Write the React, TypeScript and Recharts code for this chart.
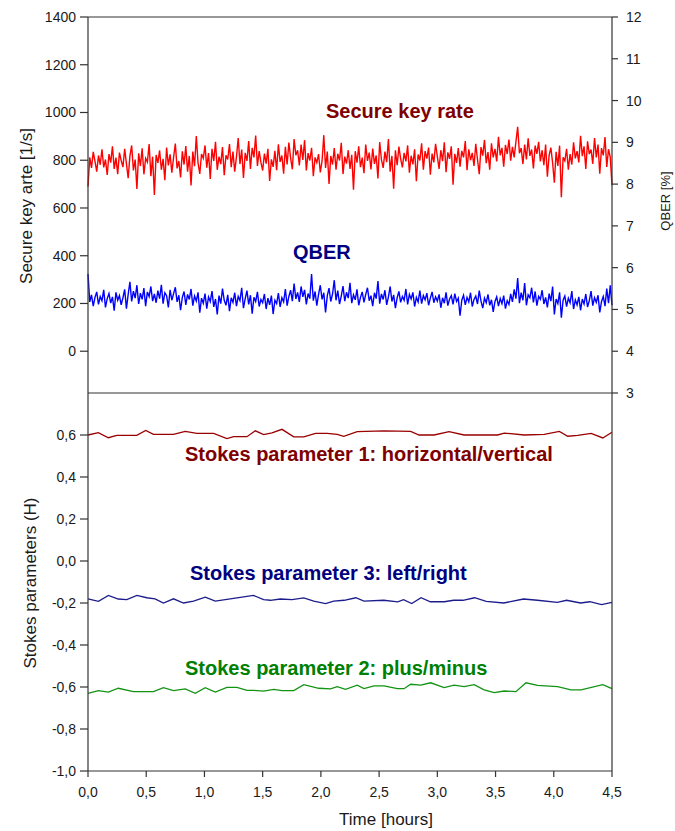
import React from "react";
import { LineChart, Line, XAxis, YAxis, ReferenceLine } from "recharts";

// sampling step of the noisy traces, in hours
const SAMPLE_STEP_H = 0.015;

// secure key rate [1/s], one value per sample
const SECURE_KEY_RATE = [
  690, 812, 768, 835, 795, 752, 820, 781, 846, 770, 803, 738, 826, 790, 858, 764, 811, 742, 832, 799,
  771, 848, 786, 725, 818, 862, 757, 803, 680, 829, 776, 850, 741, 808, 792, 868, 733, 815, 655, 822,
  789, 841, 760, 806, 716, 853, 778, 825, 748, 812, 870, 766, 797, 728, 837, 782, 859, 752, 818, 694,
  836, 775, 901, 789, 743, 826, 808, 862, 769, 830, 722, 848, 797, 877, 760, 815, 784, 855, 737, 821,
  803, 868, 771, 836, 752, 815, 893, 784, 845, 726, 831, 797, 880, 764, 852, 812, 903, 776, 838, 791,
  757, 828, 786, 848, 713, 804, 772, 839, 758, 867, 793, 820, 744, 856, 782, 874, 809, 762, 889, 821,
  842, 778, 866, 801, 884, 757, 830, 799, 852, 733, 812, 790, 826, 749, 797, 905, 768, 836, 701, 818,
  782, 851, 760, 827, 799, 873, 742, 815, 786, 842, 764, 823, 677, 838, 790, 858, 771, 811, 746, 866,
  797, 832, 761, 849, 785, 820, 724, 876, 803, 768, 836, 792, 889, 752, 818, 681, 842, 779, 857, 806,
  770, 831, 795, 862, 748, 819, 783, 846, 712, 824, 799, 871, 760, 838, 807, 853, 739, 828, 791, 869,
  816, 764, 842, 796, 875, 750, 833, 806, 858, 697, 827, 789, 851, 773, 839, 812, 880, 758, 846, 800,
  831, 776, 869, 803, 742, 855, 819, 885, 788, 834, 760, 871, 812, 848, 795, 898, 820, 852, 773, 864,
  826, 887, 798, 856, 812, 878, 940, 829, 851, 784, 866, 803, 892, 818, 845, 766, 861, 827, 877, 795,
  842, 779, 866, 731, 820, 853, 789, 706, 835, 776, 861, 645, 812, 797, 848, 760, 826, 782, 875, 808,
  838, 791, 902, 817, 858, 763, 879, 826, 845, 785, 893, 812, 866, 744, 851, 820, 897, 772, 846, 813,
  695,
];

// QBER [%], one value per sample
const QBER = [
  5.85, 5.18, 5.35, 5.08, 5.29, 5.42, 5.12, 5.31, 5.21, 5.47, 5.05, 5.26, 5.38, 5.15, 5.30, 4.97, 5.41, 5.22, 5.33, 5.11,
  5.28, 5.48, 5.02, 5.36, 5.66, 5.19, 5.44, 5.27, 5.58, 5.13, 5.39, 5.24, 5.51, 5.08, 5.42, 5.31, 5.55, 5.20, 5.37, 5.16,
  5.45, 5.26, 5.59, 5.14, 5.40, 5.33, 5.05, 5.47, 5.22, 5.38, 5.53, 5.18, 5.34, 4.98, 5.29, 5.43, 5.11, 5.36, 5.24, 5.49,
  5.09, 5.32, 5.20, 5.41, 4.92, 5.27, 5.15, 5.38, 5.02, 5.30, 5.19, 5.44, 5.06, 5.25, 4.88, 5.33, 5.14, 5.50, 5.22, 5.10,
  5.35, 4.96, 5.28, 5.17, 5.40, 5.08, 5.31, 5.21, 5.52, 5.03, 5.26, 5.45, 5.12, 5.34, 4.90, 5.29, 5.19, 5.42, 5.07, 5.24,
  5.16, 5.37, 5.01, 5.27, 5.11, 5.33, 4.89, 5.22, 5.14, 5.39, 5.06, 5.28, 5.18, 5.49, 5.09, 5.31, 5.46, 5.20, 5.62, 5.25,
  5.41, 5.18, 5.55, 5.30, 5.47, 5.12, 5.38, 5.26, 5.85, 5.21, 5.43, 5.09, 5.36, 5.58, 5.24, 5.40, 4.93, 5.33, 5.51, 5.19,
  5.37, 5.70, 5.22, 5.45, 5.13, 5.32, 5.56, 5.20, 5.41, 5.27, 5.64, 5.15, 5.35, 5.23, 5.48, 5.10, 5.29, 5.42, 5.17, 5.36,
  5.52, 5.21, 5.33, 5.08, 5.40, 5.26, 5.68, 5.14, 5.37, 5.24, 5.46, 5.11, 5.30, 5.55, 5.19, 5.35, 5.03, 5.28, 5.43, 5.17,
  5.31, 5.22, 5.49, 5.12, 5.36, 5.25, 5.41, 5.07, 5.29, 5.18, 5.45, 5.14, 5.33, 5.23, 5.39, 5.10, 5.27, 5.42, 5.16, 5.30,
  5.20, 5.36, 5.04, 5.28, 5.15, 5.41, 5.09, 5.25, 5.33, 5.12, 5.38, 5.19, 5.27, 4.85, 5.22, 5.34, 5.11, 5.29, 5.18, 5.40,
  5.07, 5.24, 5.32, 5.13, 5.45, 5.20, 5.03, 5.27, 5.16, 5.36, 5.10, 5.23, 4.94, 5.19, 5.30, 5.08, 5.26, 5.14, 5.33, 5.02,
  5.21, 5.12, 5.37, 5.18, 5.48, 5.26, 5.75, 5.15, 5.40, 5.22, 5.63, 5.10, 5.35, 5.28, 5.52, 5.17, 5.43, 5.09, 5.31, 5.24,
  5.46, 5.13, 5.29, 5.05, 5.38, 5.20, 5.55, 4.88, 5.25, 5.14, 5.41, 4.80, 5.22, 5.32, 5.07, 5.27, 5.16, 5.44, 5.01, 5.23,
  5.11, 5.30, 4.98, 5.25, 5.13, 5.37, 5.06, 5.21, 5.44, 5.09, 5.28, 5.17, 5.34, 4.93, 5.19, 5.31, 5.08, 5.50, 5.15, 5.58,
  5.10,
];

// Stokes parameter 1 (horizontal/vertical)
const S1_TIME = [0, 0.089, 0.175, 0.247, 0.419, 0.496, 0.562, 0.734, 0.835, 0.935, 1.079, 1.193, 1.251, 1.365, 1.437, 1.509, 1.58, 1.666, 1.767, 1.853, 1.954, 2.054, 2.14, 2.197, 2.312, 2.542, 2.771, 2.843, 2.972, 3.101, 3.23, 3.517, 3.575, 3.747, 3.919, 4.048, 4.12, 4.206, 4.321, 4.421, 4.5];
const S1_VALUE = [0.6, 0.611, 0.587, 0.598, 0.598, 0.622, 0.603, 0.603, 0.617, 0.608, 0.608, 0.583, 0.592, 0.592, 0.62, 0.602, 0.61, 0.627, 0.591, 0.591, 0.608, 0.608, 0.603, 0.594, 0.616, 0.62, 0.617, 0.6, 0.6, 0.616, 0.6, 0.6, 0.609, 0.6, 0.603, 0.617, 0.594, 0.598, 0.608, 0.586, 0.613];

// Stokes parameter 3 (left/right)
const S3_TIME = [0, 0.09, 0.175, 0.26, 0.333, 0.42, 0.505, 0.576, 0.648, 0.734, 0.82, 0.906, 1.007, 1.093, 1.193, 1.422, 1.508, 1.566, 1.652, 1.753, 1.853, 1.939, 2.04, 2.11, 2.2, 2.3, 2.37, 2.54, 2.66, 2.71, 2.78, 2.86, 2.94, 3.06, 3.14, 3.22, 3.32, 3.42, 3.57, 3.74, 3.86, 4.03, 4.11, 4.23, 4.31, 4.41, 4.5];
const S3_VALUE = [-0.18, -0.192, -0.164, -0.181, -0.184, -0.164, -0.175, -0.18, -0.2, -0.18, -0.2, -0.191, -0.172, -0.191, -0.183, -0.164, -0.184, -0.187, -0.181, -0.184, -0.176, -0.191, -0.203, -0.191, -0.187, -0.175, -0.191, -0.187, -0.195, -0.184, -0.203, -0.175, -0.194, -0.194, -0.187, -0.187, -0.175, -0.192, -0.2, -0.181, -0.187, -0.197, -0.187, -0.2, -0.194, -0.208, -0.197];

// Stokes parameter 2 (plus/minus)
const S2_TIME = [0, 0.089, 0.175, 0.26, 0.39, 0.562, 0.648, 0.734, 0.835, 0.921, 1.007, 1.093, 1.193, 1.279, 1.365, 1.422, 1.508, 1.595, 1.666, 1.767, 1.853, 1.982, 2.083, 2.14, 2.212, 2.312, 2.37, 2.456, 2.542, 2.657, 2.714, 2.771, 2.857, 2.943, 3.058, 3.144, 3.23, 3.316, 3.402, 3.488, 3.575, 3.675, 3.761, 3.861, 4.033, 4.148, 4.234, 4.421, 4.5];
const S2_VALUE = [-0.63, -0.617, -0.624, -0.606, -0.622, -0.622, -0.603, -0.617, -0.609, -0.63, -0.603, -0.624, -0.602, -0.602, -0.616, -0.616, -0.62, -0.611, -0.617, -0.617, -0.589, -0.606, -0.609, -0.598, -0.611, -0.591, -0.608, -0.595, -0.595, -0.608, -0.608, -0.587, -0.591, -0.58, -0.603, -0.591, -0.598, -0.589, -0.614, -0.627, -0.619, -0.622, -0.58, -0.592, -0.598, -0.614, -0.614, -0.589, -0.608];

const TIME_TICKS = [0, 0.5, 1, 1.5, 2, 2.5, 3, 3.5, 4, 4.5];
const RATE_TICKS = [0, 200, 400, 600, 800, 1000, 1200, 1400];
const QBER_TICKS = [3, 4, 5, 6, 7, 8, 9, 10, 11, 12];
const STOKES_TICKS = [-1, -0.8, -0.6, -0.4, -0.2, 0, 0.2, 0.4, 0.6];

const FONT = "'Liberation Sans', Arial, sans-serif";
const AXIS = "#333333";
const tickStyle = { fontSize: 14, fill: "#1a1a1a", fontFamily: FONT };
const comma = (v: number) => v.toFixed(1).replace(".", ",").replace("-0,0", "0,0");

const topData = SECURE_KEY_RATE.map((v, i) => ({
  t: +(i * SAMPLE_STEP_H).toFixed(3),
  skr: v,
  qber: QBER[i],
}));
const zip = (ts: number[], vs: number[]) => ts.map((t, i) => ({ t, v: vs[i] }));
const s1 = zip(S1_TIME, S1_VALUE);
const s2 = zip(S2_TIME, S2_VALUE);
const s3 = zip(S3_TIME, S3_VALUE);

const labelStyle = { fontFamily: FONT, fontWeight: 700, fontSize: 20 };

export default function App() {
  return (
    <div style={{ position: "absolute", left: 0, top: 0, width: 675, height: 831, background: "#fff" }}>
      <div style={{ position: "absolute", left: 0, top: 0 }}>
        <LineChart width={675} height={400} data={topData} margin={{ top: 17, right: 0, bottom: 7, left: 0 }}>
          <XAxis
            dataKey="t"
            type="number"
            domain={[0, 4.5]}
            ticks={TIME_TICKS}
            mirror
            tick={false}
            tickSize={6}
            stroke={AXIS}
            strokeWidth={1.2}
          />
          <YAxis
            yAxisId="skr"
            domain={[-175, 1400]}
            ticks={RATE_TICKS}
            width={88}
            tickSize={8}
            tickMargin={4}
            tick={tickStyle}
            stroke={AXIS}
            strokeWidth={1.2}
            interval={0}
          />
          <YAxis
            yAxisId="qber"
            orientation="right"
            domain={[3, 12]}
            ticks={QBER_TICKS}
            width={63}
            tickSize={6}
            tickMargin={8}
            tick={tickStyle}
            stroke={AXIS}
            strokeWidth={1.2}
            interval={0}
          />
          <ReferenceLine yAxisId="skr" y={1400} stroke={AXIS} strokeWidth={1.2} />
          <Line yAxisId="skr" dataKey="skr" stroke="#ff0000" strokeWidth={1.4} dot={false} isAnimationActive={false} />
          <Line yAxisId="qber" dataKey="qber" stroke="#0000ff" strokeWidth={1.4} dot={false} isAnimationActive={false} />
        </LineChart>
      </div>
      <div style={{ position: "absolute", left: 0, top: 393 }}>
        <LineChart width={675} height={438} margin={{ top: 0, right: 0, bottom: 0, left: 0 }}>
          <XAxis
            dataKey="t"
            type="number"
            domain={[0, 4.5]}
            ticks={TIME_TICKS}
            height={60}
            tickSize={6}
            tickMargin={10}
            tick={tickStyle}
            tickFormatter={comma}
            stroke={AXIS}
            strokeWidth={1.2}
            interval={0}
            allowDuplicatedCategory={false}
          />
          <YAxis
            yAxisId="st"
            domain={[-1, 0.8]}
            ticks={STOKES_TICKS}
            width={88}
            tickSize={8}
            tickMargin={4}
            tick={tickStyle}
            tickFormatter={comma}
            stroke={AXIS}
            strokeWidth={1.2}
            interval={0}
          />
          <YAxis
            yAxisId="frame"
            orientation="right"
            domain={[0, 1]}
            width={63}
            tick={false}
            tickLine={false}
            stroke={AXIS}
            strokeWidth={1.2}
          />
          <Line yAxisId="st" data={s1} dataKey="v" stroke="#990000" strokeWidth={1.3} dot={false} isAnimationActive={false} />
          <Line yAxisId="st" data={s3} dataKey="v" stroke="#1c1c8c" strokeWidth={1.3} dot={false} isAnimationActive={false} />
          <Line yAxisId="st" data={s2} dataKey="v" stroke="#139313" strokeWidth={1.3} dot={false} isAnimationActive={false} />
        </LineChart>
      </div>
      <svg width={675} height={831} style={{ position: "absolute", left: 0, top: 0, pointerEvents: "none" }}>
        <text x={326} y={118} fill="#800000" style={labelStyle}>Secure key rate</text>
        <text x={293} y={259} fill="#000080" style={labelStyle}>QBER</text>
        <text x={185} y={461} fill="#800000" style={labelStyle}>Stokes parameter 1: horizontal/vertical</text>
        <text x={190} y={580} fill="#000080" style={labelStyle}>Stokes parameter 3: left/right</text>
        <text x={185} y={675} fill="#008000" style={labelStyle}>Stokes parameter 2: plus/minus</text>
        <text
          x={0}
          y={0}
          transform="translate(32 206) rotate(-90)"
          textAnchor="middle"
          fill="#1a1a1a"
          style={{ fontFamily: FONT, fontSize: 17 }}
        >
          Secure key arte [1/s]
        </text>
        <text
          x={0}
          y={0}
          transform="translate(670 201) rotate(-90)"
          textAnchor="middle"
          fill="#1a1a1a"
          style={{ fontFamily: FONT, fontSize: 13 }}
        >
          QBER [%]
        </text>
        <text
          x={0}
          y={0}
          transform="translate(36 583) rotate(-90)"
          textAnchor="middle"
          fill="#1a1a1a"
          style={{ fontFamily: FONT, fontSize: 17 }}
        >
          Stokes parameters (H)
        </text>
        <text x={386} y={825} textAnchor="middle" fill="#1a1a1a" style={{ fontFamily: FONT, fontSize: 17 }}>
          Time [hours]
        </text>
      </svg>
    </div>
  );
}
